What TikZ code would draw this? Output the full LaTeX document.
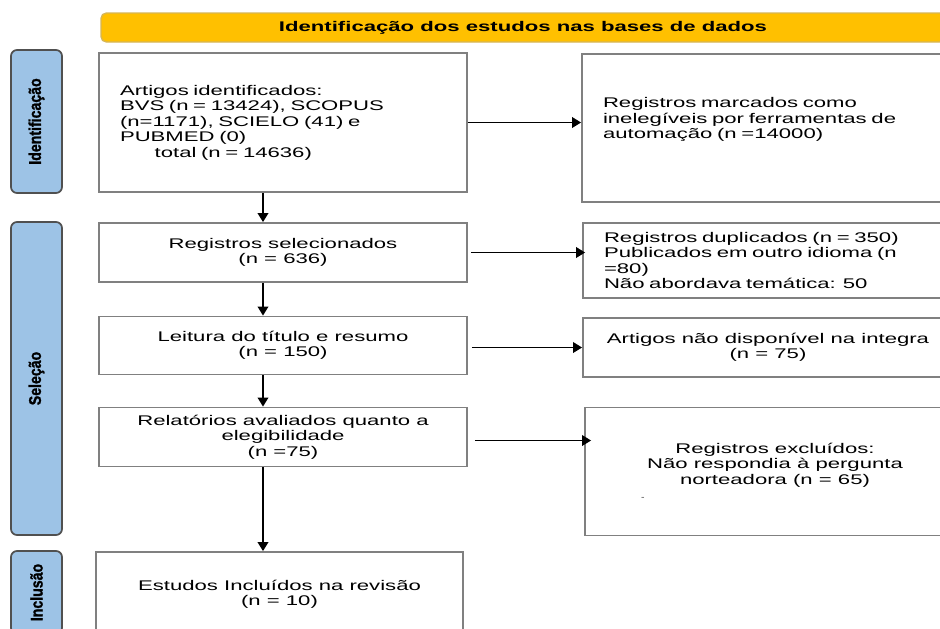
\documentclass[tikz,border=0pt]{standalone}
\usepackage{fontspec}
\setmainfont[FakeStretch=1.58]{Liberation Sans}
\newfontfamily\sidefont[FakeBold=1.5]{Liberation Sans}
\usepackage{xcolor}
\usepackage{tikz}
\usetikzlibrary{positioning,calc,arrows.meta}
\definecolor{bannerfill}{RGB}{255,192,0}
\definecolor{bannerline}{RGB}{214,182,86}
\definecolor{sideblue}{RGB}{157,195,230}
\definecolor{sideline}{RGB}{80,80,80}
\definecolor{boxline}{RGB}{128,128,128}
\newcommand{\px}{0.75pt}
\newcommand{\sidetext}[1]{\scalebox{1}[1.2]{#1}}
\tikzset{
  box/.style={draw=boxline, line width=1.4pt, fill=white, inner sep=0pt, align=center,
    font=\fontsize{10.5}{11.6}\selectfont},
  side/.style={draw=sideline, fill=sideblue, line width=1.3pt, rounded corners=4.5pt,
    rotate=90, minimum height=51*\px, inner sep=0pt,
    font=\sidefont\bfseries\fontsize{10.6}{12}\selectfont},
  titlebar/.style={draw=bannerline, fill=bannerfill, line width=1pt, rounded corners=4pt,
    minimum width=844*\px, minimum height=29*\px, inner sep=0pt,
    font=\bfseries\fontsize{10.5}{11.6}\selectfont},
  arr/.style={-{Triangle[length=6.75pt,width=8pt]}, line width=1.05pt}
}
\begin{document}
\begin{tikzpicture}[x=0.75pt,y=-0.75pt]
\useasboundingbox (0,0) rectangle (940,629);
\clip (0,0) rectangle (940,629);

% faixa de titulo
\node[titlebar] (bar) at (523,27.5) {Identificação dos estudos nas bases de dados};

% etapas laterais
\node[side, minimum width=143*\px] (sIdent) at (36.5,121.5) {\sidetext{Identificação}};
\node[side, minimum width=313*\px] (sSel) at (36.5,378.5) {\sidetext{Seleção}};
\node[side, minimum width=83*\px] (sIncl) at (36.5,592.5) {\sidetext{Inclusão}};

% coluna da esquerda
\node[box, minimum width=368*\px, minimum height=139*\px, align=left, text width=326*\px] (ident) at (283,122.5)
  {Artigos identificados:\\ BVS (n = 13424), SCOPUS\\ (n=1171), SCIELO (41) e\\ PUBMED (0)\\ \hspace*{26pt}total (n = 14636)};
\node[box, minimum width=368*\px, minimum height=59*\px] (regsel) at (283,252.5)
  {Registros selecionados\\ (n = 636)};
\node[box, minimum width=368*\px, minimum height=58*\px] (leit) at (283,345.5)
  {Leitura do título e resumo\\ (n = 150)};
\node[box, minimum width=368*\px, minimum height=59*\px] (rel) at (283,437)
  {Relatórios avaliados quanto a\\ elegibilidade\\ (n =75)};
\node[box, minimum width=367*\px, minimum height=85*\px] (incl) at (279.5,594.5)
  {Estudos Incluídos na revisão\\ (n = 10)};

% coluna da direita
\node[box, minimum width=370*\px, minimum height=148*\px, align=left, text width=328*\px] (marc) at (767,128)
  {Registros marcados como\\ inelegíveis por ferramentas de\\ automação (n =14000)\\ \strut};
\node[box, minimum width=370*\px, minimum height=75*\px, align=left, text width=328*\px] (dup) at (768,260.5)
  {Registros duplicados (n = 350)\\ Publicados em outro idioma (n\\ =80)\\ Não abordava temática: 50};
\node[box, minimum width=370*\px, minimum height=59*\px] (indisp) at (768,347.5)
  {Artigos não disponível na integra\\ (n = 75)};
\node[box, minimum width=380*\px, minimum height=128*\px] (excl) at (775,471.5)
  {Registros excluídos:\\ Não respondia à pergunta\\ norteadora (n = 65)\\ {\tiny -}\hspace*{198pt}};

% setas
\coordinate (col) at (263,0);
\draw[arr] (ident.south -| col) -- (regsel.north -| col);
\draw[arr] (regsel.south -| col) -- (leit.north -| col);
\draw[arr] (leit.south -| col) -- (rel.north -| col);
\draw[arr] (rel.south -| col) -- (incl.north -| col);

\draw[arr] (ident.east) -- (ident.east -| marc.west);
\draw[arr] ([xshift=3*\px]regsel.east) -- ([xshift=3*\px]regsel.east -| dup.west);
\draw[arr] ([xshift=4*\px]leit.east |- indisp.west) -- (indisp.west);
\draw[arr] ([xshift=7*\px,yshift=-3.5*\px]rel.east) -- ([xshift=7*\px,yshift=-3.5*\px]rel.east -| excl.west);
\end{tikzpicture}
\end{document}
